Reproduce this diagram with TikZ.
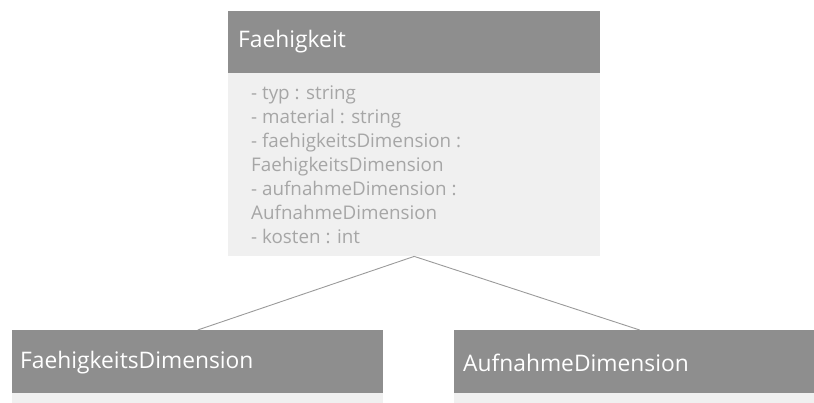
\documentclass[tikz,border=0pt]{standalone}
\usepackage{fontspec}
\setmainfont{Open Sans}
\definecolor{hdrfill}{HTML}{8E8E8E}
\definecolor{bodyfill}{HTML}{F0F0F0}
\definecolor{attrtext}{HTML}{A6A6A6}
\definecolor{linkline}{HTML}{9A9A9A}
\tikzset{
  classhead/.style={fill=hdrfill, draw=none, anchor=north west, inner sep=0pt},
  classbody/.style={fill=bodyfill, draw=none, anchor=north west, inner sep=0pt},
  headtext/.style={anchor=west, text=white, inner sep=0pt, font=\fontsize{22.8}{26}\selectfont},
  attr/.style={anchor=base west, text=attrtext, inner sep=0pt, font=\fontsize{18.8}{22}\selectfont},
  link/.style={draw=linkline, line width=0.9pt}
}
\begin{document}
\begin{tikzpicture}[x=1pt,y=-1pt]
\useasboundingbox (0,0) rectangle (814,403);
\clip (0,0) rectangle (814,403);

% class Faehigkeit
\node[classhead, minimum width=372pt, minimum height=62pt] (fhead) at (228,11) {};
\node[classbody, minimum width=372pt, minimum height=183pt] (fbody) at (228,73) {};
\node[headtext] (ftitle) at (238,42) {Faehigkeit};
\foreach \txt [count=\i] in {
  {- typ : string},
  {- material : string},
  {- faehigkeitsDimension :},
  {FaehigkeitsDimension},
  {- aufnahmeDimension :},
  {AufnahmeDimension},
  {- kosten : int}}
{
  \pgfmathsetmacro{\yy}{100+24*(\i-1)}
  \node[attr] (fattr\i) at (251,\yy) {\txt};
}

% class FaehigkeitsDimension
\node[classhead, minimum width=371pt, minimum height=63pt] (dhead) at (12,330) {};
\node[classbody, minimum width=371pt, minimum height=20pt] (dbody) at (12,393) {};
\node[headtext] (dtitle) at (20,363) {FaehigkeitsDimension};

% class AufnahmeDimension
\node[classhead, minimum width=371pt, minimum height=63pt] (ahead) at (454,330) {};
\node[classbody, minimum width=371pt, minimum height=20pt] (abody) at (454,393) {};
\node[headtext] (atitle) at (463,363) {AufnahmeDimension};

% associations
\draw[link] (fbody.south) -- (dhead.north);
\draw[link] (fbody.south) -- (ahead.north);
\end{tikzpicture}
\end{document}
